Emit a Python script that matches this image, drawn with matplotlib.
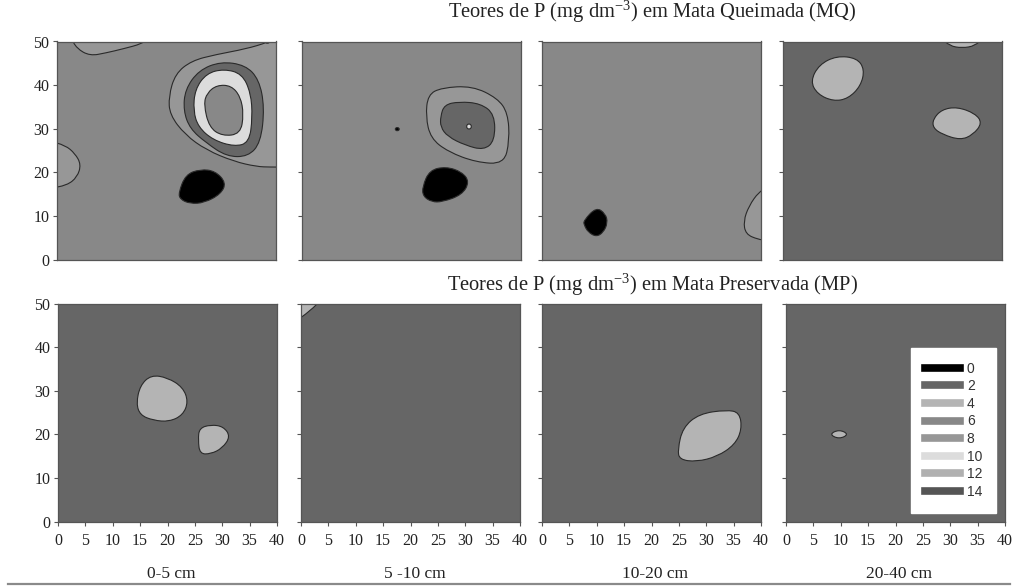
import matplotlib
matplotlib.use("Agg")
import matplotlib.pyplot as plt
from matplotlib.colors import ListedColormap, BoundaryNorm
from matplotlib.path import Path
from matplotlib.patches import PathPatch
from matplotlib.lines import Line2D

plt.rcParams['font.family'] = ['Liberation Serif', 'DejaVu Serif']
plt.rcParams['mathtext.fontset'] = 'custom'
plt.rcParams['mathtext.rm'] = 'Liberation Serif'
plt.rcParams['mathtext.default'] = 'regular'

# Classes de P (mg dm-3) e cor de cada faixa
niveis = [0, 2, 4, 6, 8, 10, 12, 14, 16]
cores = ['#000000', '#666666', '#b4b4b4', '#888888', '#979797', '#dcdcdc', '#b0b0b0', '#555555']
rotulos_legenda = ['0', '2', '4', '6', '8', '10', '12', '14']

profundidades = ['0-5 cm', '5 -10 cm', '10-20 cm', '20-40 cm']
ticks_x = [0, 5, 10, 15, 20, 25, 30, 35, 40]
ticks_y = [0, 10, 20, 30, 40, 50]

# ---------------- Mata Queimada (MQ) ----------------
# 0-5 cm
mq1_fundo = 7
mq1_topo_x = [2.5, 3.6, 6.0, 9.0, 12.0, 15.6, 16.8, 9.0]
mq1_topo_y = [51.0, 48.4, 46.7, 47.4, 48.3, 49.5, 51.0, 52.0]
mq1_borda_x = [-1.5, 1.5, 3.3, 4.4, 3.7, 1.8, -1.5]
mq1_borda_y = [27.2, 26.2, 24.3, 21.8, 18.9, 17.0, 16.3]
mq1_anel1_x = [20.4, 21.6, 24.6, 29.0, 34.5, 38.5, 41.5, 41.5, 39.0, 36.5, 32.3, 27.3, 23.4, 20.6]
mq1_anel1_y = [37.4, 42.6, 45.6, 47.0, 48.3, 49.8, 51.5, 21.2, 21.2, 21.3, 22.5, 25.1, 28.6, 33.2]
mq1_anel2_x = [23.1, 23.4, 25.9, 29.9, 34.4, 36.9, 37.9, 37.2, 34.9, 31.0, 27.2, 24.3]
mq1_anel2_y = [34.1, 39.0, 43.4, 45.4, 44.6, 41.3, 34.9, 26.8, 23.6, 23.6, 26.8, 30.0]
mq1_anel3_x = [24.9, 25.2, 27.3, 30.5, 33.8, 35.4, 35.7, 35.1, 32.4, 28.5, 25.8]
mq1_anel3_y = [34.1, 39.0, 42.7, 43.7, 42.6, 38.2, 32.6, 26.8, 25.9, 27.4, 30.4]
mq1_centro_x = [26.8, 27.4, 29.2, 31.8, 33.5, 34.1, 33.5, 30.2, 27.8]
mq1_centro_y = [35.6, 38.2, 40.0, 39.9, 37.4, 33.3, 28.8, 28.3, 30.3]
mq1_preto_x = [22.2, 23.5, 26.2, 28.9, 30.9, 29.9, 26.9, 24.3, 22.5]
mq1_preto_y = [15.3, 19.5, 20.7, 20.3, 17.6, 15.0, 13.0, 12.8, 13.8]
mq1_canto_x = [37.4, 38.4, 39.6]
mq1_canto_y = [50.8, 49.2, 50.8]

# 5-10 cm
mq2_fundo = 7
mq2_anel1_x = [23.0, 25.5, 31.1, 35.7, 37.6, 37.9, 36.9, 31.8, 26.7, 23.5, 22.6]
mq2_anel1_y = [37.8, 39.4, 39.8, 37.0, 33.6, 27.3, 21.9, 22.3, 24.7, 27.8, 32.8]
mq2_anel2_x = [25.3, 26.0, 28.7, 32.6, 35.2, 35.2, 33.2, 29.8, 26.6, 25.3]
mq2_anel2_y = [32.8, 35.5, 36.2, 35.8, 33.3, 27.2, 25.1, 26.2, 28.2, 30.4]
mq2_ponto_claro_x = [29.9, 30.5, 31.1, 30.5]
mq2_ponto_claro_y = [30.5, 31.3, 30.5, 29.7]
mq2_ponto_preto_x = [16.9, 17.4, 17.9, 17.4]
mq2_ponto_preto_y = [29.9, 30.4, 29.9, 29.4]
mq2_preto_x = [22.0, 23.3, 26.3, 29.2, 30.6, 29.2, 25.6, 23.7, 22.1]
mq2_preto_y = [16.7, 20.5, 21.3, 20.1, 17.8, 14.8, 13.2, 13.2, 14.5]

# 10-20 cm
mq3_fundo = 7
mq3_preto_x = [7.6, 9.9, 11.6, 12.0, 11.2, 9.9, 8.4, 7.7]
mq3_preto_y = [8.9, 12.0, 10.5, 8.4, 6.2, 5.2, 6.3, 7.9]
mq3_borda_x = [41.0, 39.6, 37.8, 36.8, 37.2, 39.5, 41.0]
mq3_borda_y = [16.3, 15.5, 12.3, 8.8, 5.8, 4.6, 4.4]

# 20-40 cm
mq4_fundo = 3
mq4_mancha1_x = [5.0, 6.6, 9.8, 13.5, 14.9, 14.2, 11.9, 9.2, 6.3]
mq4_mancha1_y = [40.9, 44.7, 46.7, 46.2, 43.6, 39.8, 36.9, 36.3, 37.9]
mq4_mancha2_x = [27.4, 29.0, 31.8, 35.1, 36.4, 34.7, 32.4, 29.1, 27.4]
mq4_mancha2_y = [32.2, 34.4, 35.0, 33.5, 31.3, 28.6, 27.4, 28.7, 30.2]
mq4_topo_x = [28.8, 30.4, 32.7, 35.1, 36.7]
mq4_topo_y = [51.0, 49.0, 48.5, 49.0, 51.0]

# ---------------- Mata Preservada (MP) ----------------
mp1_fundo = 3
mp1_mancha1_x = [14.3, 15.0, 17.0, 20.0, 22.8, 23.8, 22.8, 20.3, 17.4, 15.0]
mp1_mancha1_y = [27.1, 31.2, 33.6, 33.0, 30.8, 27.5, 24.4, 22.9, 23.2, 24.4]
mp1_mancha2_x = [25.6, 25.8, 27.9, 30.2, 31.5, 30.0, 27.9, 25.9]
mp1_mancha2_y = [18.7, 21.4, 22.2, 21.8, 19.5, 16.8, 15.5, 15.5]

mp2_fundo = 3
mp2_canto_x = [-1.5, 4.2, 1.6, -1.5]
mp2_canto_y = [51.5, 51.5, 48.2, 45.5]

mp3_fundo = 3
mp3_mancha_x = [24.8, 25.7, 28.7, 33.7, 36.1, 36.5, 35.2, 32.0, 28.2, 25.1]
mp3_mancha_y = [16.5, 21.5, 24.7, 25.6, 25.0, 21.1, 17.6, 14.9, 13.7, 14.2]

mp4_fundo = 3
mp4_mancha_x = [7.9, 9.7, 11.5, 9.7]
mp4_mancha_y = [20.0, 21.1, 20.0, 18.9]

# Zonas de cada painel: (valor de P, contorno x, contorno y)
paineis_mq = [
    (mq1_fundo, [(9, mq1_topo_x, mq1_topo_y), (9, mq1_borda_x, mq1_borda_y),
                 (9, mq1_anel1_x, mq1_anel1_y), (3, mq1_anel2_x, mq1_anel2_y),
                 (11, mq1_anel3_x, mq1_anel3_y), (7, mq1_centro_x, mq1_centro_y),
                 (1, mq1_preto_x, mq1_preto_y), (1, mq1_canto_x, mq1_canto_y)]),
    (mq2_fundo, [(9, mq2_anel1_x, mq2_anel1_y), (3, mq2_anel2_x, mq2_anel2_y),
                 (11, mq2_ponto_claro_x, mq2_ponto_claro_y),
                 (1, mq2_ponto_preto_x, mq2_ponto_preto_y), (1, mq2_preto_x, mq2_preto_y)]),
    (mq3_fundo, [(1, mq3_preto_x, mq3_preto_y), (9, mq3_borda_x, mq3_borda_y)]),
    (mq4_fundo, [(5, mq4_mancha1_x, mq4_mancha1_y), (5, mq4_mancha2_x, mq4_mancha2_y),
                 (5, mq4_topo_x, mq4_topo_y)]),
]
paineis_mp = [
    (mp1_fundo, [(5, mp1_mancha1_x, mp1_mancha1_y), (5, mp1_mancha2_x, mp1_mancha2_y)]),
    (mp2_fundo, [(5, mp2_canto_x, mp2_canto_y)]),
    (mp3_fundo, [(5, mp3_mancha_x, mp3_mancha_y)]),
    (mp4_fundo, [(5, mp4_mancha_x, mp4_mancha_y)]),
]

cmap = ListedColormap(cores)
norm = BoundaryNorm(niveis, cmap.N)


def contorno_suave(xs, ys):
    # curva fechada de Bezier quadratica passando pelos pontos medios
    pts = list(zip(xs, ys))
    n = len(pts)
    meio = lambda a, b: ((a[0] + b[0]) / 2, (a[1] + b[1]) / 2)
    verts = [meio(pts[-1], pts[0])]
    codes = [Path.MOVETO]
    for i in range(n):
        verts += [pts[i], meio(pts[i], pts[(i + 1) % n])]
        codes += [Path.CURVE3, Path.CURVE3]
    return Path(verts, codes)


def desenha_painel(ax, fundo, zonas):
    ax.pcolormesh([0, 40], [0, 50], [[fundo]], cmap=cmap, norm=norm)
    for valor, xs, ys in zonas:
        ax.add_patch(PathPatch(contorno_suave(xs, ys), facecolor=cmap(norm(valor)),
                               edgecolor='#2a2a2a', lw=0.8))
    ax.set_xlim(0, 40)
    ax.set_ylim(0, 50)
    for s in ax.spines.values():
        s.set_color('#555555')
        s.set_linewidth(0.9)
    ax.set_yticks(ticks_y)
    ax.tick_params(length=3, width=0.8, color='#555555', labelsize=11.5,
                   labelcolor='#222222')
    ax.tick_params(axis='y', pad=2.5)
    ax.tick_params(axis='x', pad=5)


W, H = 1015, 588
fig = plt.figure(figsize=(W / 100, H / 100), dpi=100)

esq_topo = [57, 302, 542, 783]
esq_base = [58, 301, 542, 786]
largura = 219

for i, (fundo, zonas) in enumerate(paineis_mq):
    ax = fig.add_axes([esq_topo[i] / W, (H - 259.5) / H, largura / W, 218 / H])
    desenha_painel(ax, fundo, zonas)
    ax.set_xticks([])
    if i > 0:
        ax.set_yticklabels([])

for i, (fundo, zonas) in enumerate(paineis_mp):
    ax = fig.add_axes([esq_base[i] / W, (H - 521.5) / H, largura / W, 218 / H])
    desenha_painel(ax, fundo, zonas)
    ax.set_xticks(ticks_x)
    if i > 0:
        ax.set_yticklabels([])
    fig.text((esq_base[i] + largura / 2 + 4) / W, 1 - 574 / H, profundidades[i],
             ha='center', va='center', fontsize=12.5, color='#222222')
    if i == 3:
        alcas = [Line2D([], [], color=cmap(norm(v + 1)), lw=5.5) for v in niveis[:-1]]
        leg = ax.legend(alcas, rotulos_legenda, loc='lower right',
                        bbox_to_anchor=(0.96, 0.04), borderaxespad=0,
                        frameon=True, fancybox=False,
                        framealpha=1, edgecolor='white', handlelength=2.5,
                        labelspacing=0.26, borderpad=1.0, handletextpad=0.5,
                        prop={'family': 'Liberation Sans', 'size': 10})
        for t in leg.get_texts():
            t.set_color('#333333')

fig.text(652 / W, 1 - 12 / H, r'Teores de P (mg dm$^{-3}$) em Mata Queimada (MQ)',
         ha='center', va='center', fontsize=14.8, color='#222222')
fig.text(652 / W, 1 - 285 / H, r'Teores de P (mg dm$^{-3}$) em Mata Preservada (MP)',
         ha='center', va='center', fontsize=14.8, color='#222222')

# linha horizontal de fechamento
fig.add_artist(Line2D([8 / W, 1010 / W], [1 - 584 / H, 1 - 584 / H],
                      color='#8a8a8a', lw=1.6))

fig.savefig('out.png', dpi=100)
